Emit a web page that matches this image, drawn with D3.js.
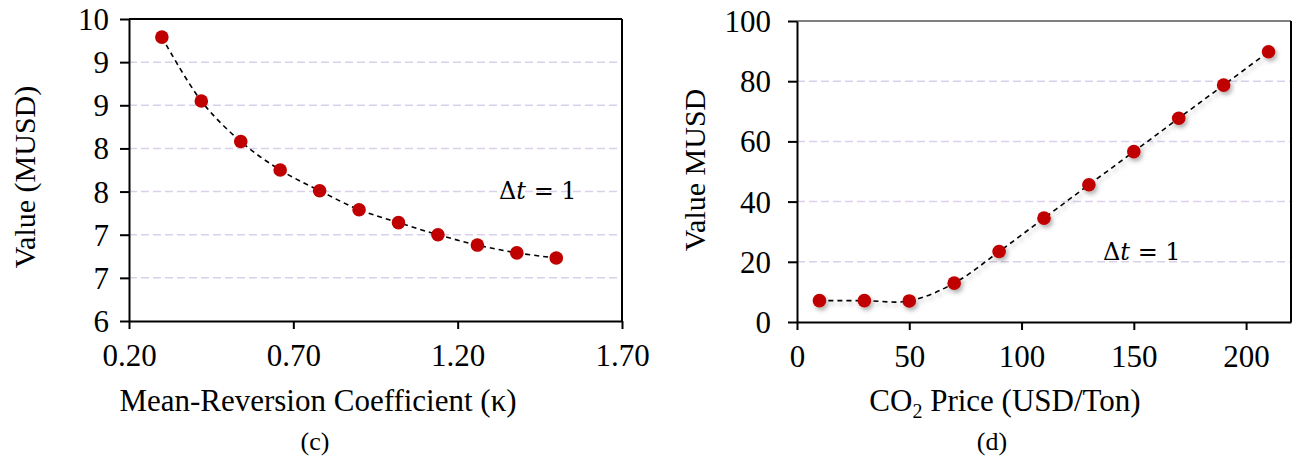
<!DOCTYPE html>
<html>
<head>
<meta charset="utf-8">
<script src="https://cdn.jsdelivr.net/npm/d3@7"></script>
<style>
  body { margin: 0; background: #fff; }
  svg text { font-family: "Liberation Serif", "Times New Roman", serif; fill: #000; }
</style>
</head>
<body>
<script>
// panel (c): value vs mean-reversion coefficient
var kappa = [0.30, 0.42, 0.54, 0.66, 0.78, 0.90, 1.02, 1.14, 1.26, 1.38, 1.50];
var valueKappa = [9.29, 8.55, 8.08, 7.75, 7.51, 7.29, 7.14, 7.00, 6.88, 6.79, 6.73];
var kappaTicks = [0.20, 0.70, 1.20, 1.70];
var kappaTickLabels = ["0.20", "0.70", "1.20", "1.70"];
var valueKappaTicks = [6, 6.5, 7, 7.5, 8, 8.5, 9, 9.5];
var valueKappaTickLabels = ["6", "7", "7", "8", "8", "9", "9", "10"];

// panel (d): value vs CO2 price
var co2Price = [10, 30, 50, 70, 90, 110, 130, 150, 170, 190, 210];
var valueCo2 = [7.1, 7.1, 7.0, 12.9, 23.4, 34.5, 45.6, 56.6, 67.7, 78.7, 89.8];
var co2Ticks = [0, 50, 100, 150, 200];
var co2TickLabels = ["0", "50", "100", "150", "200"];
var valueCo2Ticks = [0, 20, 40, 60, 80, 100];
var valueCo2TickLabels = ["0", "20", "40", "60", "80", "100"];

var svg = d3.select("body").append("svg")
    .attr("width", 1292)
    .attr("height", 463);

var defs = svg.append("defs");
defs.append("filter").attr("id", "shadow")
    .attr("x", "-50%").attr("y", "-50%").attr("width", "200%").attr("height", "200%")
    .append("feDropShadow")
    .attr("dx", 2).attr("dy", 3).attr("stdDeviation", 2)
    .attr("flood-color", "#000").attr("flood-opacity", 0.3);

function drawPanel(p) {
    var x = d3.scaleLinear().domain(p.xDomain).range([p.left, p.right]);
    var y = d3.scaleLinear().domain(p.yDomain).range([p.bottom, p.top]);
    var g = svg.append("g");

    // gridlines
    g.selectAll(".grid")
        .data(p.yTicks.filter(function(d) { return d > p.yDomain[0] && d < p.yDomain[1]; }))
        .enter().append("line")
        .attr("x1", p.left).attr("x2", p.right)
        .attr("y1", function(d) { return y(d); })
        .attr("y2", function(d) { return y(d); })
        .attr("stroke", "#dad0ea")
        .attr("stroke-width", 1.5)
        .attr("stroke-dasharray", "8,4");

    // frame top / right
    g.append("line").attr("x1", p.left).attr("x2", p.right)
        .attr("y1", p.top).attr("y2", p.top)
        .attr("stroke", p.topColor).attr("stroke-width", 2);
    g.append("line").attr("x1", p.right).attr("x2", p.right)
        .attr("y1", p.top).attr("y2", p.bottom)
        .attr("stroke", "#000").attr("stroke-width", 2);

    // axes
    var xAxis = d3.axisBottom(x).tickValues(p.xTicks)
        .tickFormat(function(d, i) { return p.xTickLabels[i]; })
        .tickSize(8).tickSizeOuter(0).tickPadding(15);
    var yAxis = d3.axisLeft(y).tickValues(p.yTicks)
        .tickFormat(function(d, i) { return p.yTickLabels[i]; })
        .tickSize(9).tickSizeOuter(0).tickPadding(p.yPad);

    var gx = g.append("g").attr("transform", "translate(0," + p.bottom + ")").call(xAxis);
    var gy = g.append("g").attr("transform", "translate(" + p.left + ",0)").call(yAxis);
    gx.attr("font-family", "Liberation Serif").attr("font-size", 31);
    gy.attr("font-family", "Liberation Serif").attr("font-size", 31);
    gx.selectAll("path, line").attr("stroke", "#000").attr("stroke-width", 2);
    gy.selectAll("path, line").attr("stroke", "#000").attr("stroke-width", 2);
    gx.selectAll("text").attr("dy", "0.71em");
    gy.selectAll("text").attr("dy", "0.34em");

    // line + markers
    var pts = p.xs.map(function(d, i) { return [d, p.ys[i]]; });
    var line = d3.line()
        .x(function(d) { return x(d[0]); })
        .y(function(d) { return y(d[1]); })
        .curve(d3.curveCatmullRom.alpha(0.5));
    var series = g.append("g");
    if (p.shadow) series.attr("filter", "url(#shadow)");
    series.append("path").datum(pts)
        .attr("d", line)
        .attr("fill", "none")
        .attr("stroke", "#000")
        .attr("stroke-width", 1.6)
        .attr("stroke-dasharray", "5,4");
    series.selectAll("circle").data(pts).enter().append("circle")
        .attr("cx", function(d) { return x(d[0]); })
        .attr("cy", function(d) { return y(d[1]); })
        .attr("r", 6.8)
        .attr("fill", "#c00000");

    // annotation
    var ann = g.append("text")
        .attr("x", p.annX).attr("y", p.annY)
        .attr("font-size", 24)
        .style("font-family", "'DejaVu Serif', serif")
        .style("white-space", "pre");
    ann.append("tspan").text("\u0394");
    ann.append("tspan").attr("font-style", "italic").text("t");
    ann.append("tspan").text(" = 1");

    // y title
    g.append("text")
        .attr("transform", "translate(" + p.yTitleX + "," + p.yTitleY + ") rotate(-90)")
        .attr("text-anchor", "middle")
        .attr("font-size", 30)
        .text(p.yTitle);

    // x title
    var xt = g.append("text")
        .attr("x", p.xTitleX).attr("y", 411)
        .attr("text-anchor", "middle")
        .attr("font-size", 31);
    p.xTitle(xt);

    // panel letter
    g.append("text")
        .attr("x", p.letterX).attr("y", 450)
        .attr("text-anchor", "middle")
        .attr("font-size", 26)
        .text(p.letter);
}

drawPanel({
    left: 129, right: 622, top: 19, bottom: 321,
    xDomain: [0.2, 1.7], yDomain: [6, 9.5],
    xTicks: kappaTicks, xTickLabels: kappaTickLabels,
    yTicks: valueKappaTicks, yTickLabels: valueKappaTickLabels,
    xs: kappa, ys: valueKappa,
    topColor: "#000", shadow: false, yPad: 11,
    annX: 499, annY: 199,
    yTitle: "Value (MUSD)", yTitleX: 35, yTitleY: 177,
    xTitleX: 318, letterX: 315,
    xTitle: function(t) { t.text("Mean-Reversion Coefficient (\u03ba)"); },
    letter: "(c)"
});

drawPanel({
    left: 797, right: 1291, top: 21, bottom: 322,
    xDomain: [0, 220], yDomain: [0, 100],
    xTicks: co2Ticks, xTickLabels: co2TickLabels,
    yTicks: valueCo2Ticks, yTickLabels: valueCo2TickLabels,
    xs: co2Price, ys: valueCo2,
    topColor: "#7f7f7f", shadow: true, yPad: 17,
    annX: 1103, annY: 260,
    yTitle: "Value MUSD", yTitleX: 705, yTitleY: 170,
    xTitleX: 1005, letterX: 992,
    xTitle: function(t) {
        t.append("tspan").text("CO");
        t.append("tspan").attr("font-size", 20).attr("dy", 7).text("2");
        t.append("tspan").attr("dy", -7).text(" Price (USD/Ton)");
    },
    letter: "(d)"
});
</script>
</body>
</html>
